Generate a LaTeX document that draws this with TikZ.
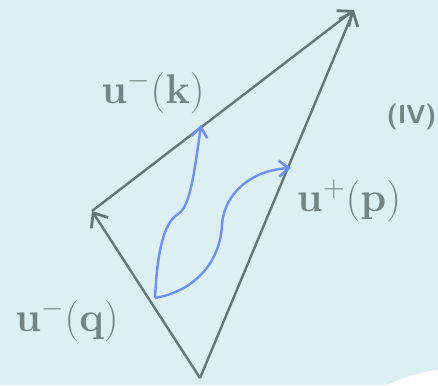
\documentclass[tikz,border=0pt]{standalone}
\usepackage{amsmath}
\usepackage{tikz}
\usetikzlibrary{arrows.meta, positioning}
\definecolor{bgCyan}{HTML}{DCEFF2}
\definecolor{vecGray}{HTML}{667676}
\definecolor{labelGray}{HTML}{748485}
\definecolor{flowBlue}{HTML}{6F8FF4}

\begin{document}
\begin{tikzpicture}[
    x=0.5pt, y=-0.5pt,
    vec/.style={-{Straight Barb[length=6pt, width=10pt, line width=1.4pt]}, draw=vecGray, line width=1.2pt},
    flow/.style={-{Straight Barb[length=5pt, width=8pt, line width=1.3pt]}, draw=flowBlue, line width=1.2pt},
    mlabel/.style={text=labelGray, font=\fontsize{22}{26}\selectfont, inner sep=0pt},
]
    \fill[bgCyan] (0,0) rectangle (438,385);
    \useasboundingbox (0,0) rectangle (438,385);
    \fill[white] (387,385) .. controls (405,377) and (420,372) .. (438,370) -- (438,385) -- cycle;

    % triangle of momenta
    \coordinate (bot) at (200,378);
    \coordinate (lft) at (92,211);
    \coordinate (top) at (354,10);
    \draw[vec] (bot) -- (lft);
    \draw[vec] (lft) -- (top);
    \draw[vec] (bot) -- (top);

    % blue flows
    \coordinate (src) at (155,298);
    \coordinate (kink) at (178,214);
    \coordinate (kend) at (201,125);
    \coordinate (bend) at (222,225);
    \coordinate (pend) at (291,168);
    \draw[flow] (src) .. controls (157,258) and (162,224) .. (kink)
        .. controls (190,207) and (194,175) .. (kend);
    \draw[flow] (src) .. controls (195,291) and (220,262) .. (bend)
        .. controls (224,193) and (252,170) .. (pend);

    \node[mlabel] (klab) at (153,93) {$\mathbf{u}^{-}(\mathbf{k})$};
    \node[mlabel] (plab) at (349,201) {$\mathbf{u}^{+}(\mathbf{p})$};
    \node[mlabel] (qlab) at (67,321) {$\mathbf{u}^{-}(\mathbf{q})$};
    \node[text=labelGray, font=\fontsize{13}{15}\sffamily\bfseries, inner sep=0pt, anchor=east] (region) at (437,117) {(IV)};
\end{tikzpicture}
\end{document}
